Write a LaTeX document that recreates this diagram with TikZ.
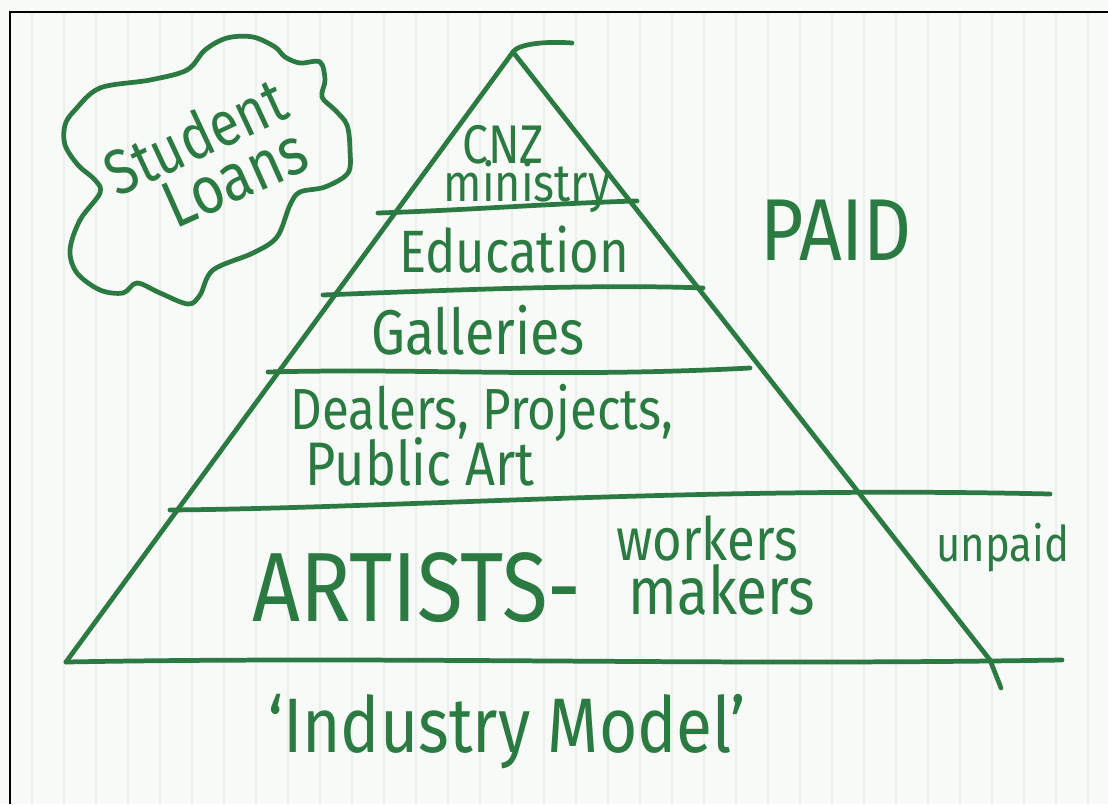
\documentclass[tikz,border=0pt]{standalone}
\usepackage{tikz}
\usepackage{fontspec}
\setmainfont{Fira Sans}[FakeStretch=0.85]
\usetikzlibrary{positioning}

\definecolor{ink}{RGB}{42,122,66}
\definecolor{paper}{RGB}{247,250,246}
\definecolor{ruling}{RGB}{234,240,236}

\tikzset{
  pen/.style={draw=ink, line width=2.7pt, line cap=round, line join=round},
  hand/.style={text=ink, inner sep=0pt, font=\fontsize{#1}{#1}\selectfont},
}

\begin{document}
\begin{tikzpicture}[x=0.02cm, y=-0.02cm]
        \useasboundingbox (0,0) rectangle (1108,804);
        % paper and its ruling
        \fill [paper] (0,0) rectangle (1108,804);
        \foreach \x in {32,64,...,1100}
                \draw [ruling, line width=0.8pt] (\x,12) -- (\x,804);
        \draw [black, line width=1.7pt] (10,804) -- (10,12) -- (1108,12);

        % pyramid
        \coordinate (apex) at (513,52);
        \coordinate (flag) at (572,43);
        \coordinate (left foot) at (66,662);
        \coordinate (right cross) at (990,660);
        \coordinate (right foot) at (1001,688);
        \draw [pen] (flag) .. controls (545,41) and (518,44) .. (apex) -- (left foot);
        \draw [pen] (apex) -- (right cross) -- (right foot);

        % tiers
        \draw [pen] (378,213) .. controls (470,210) and (560,203) .. (637,201);
        \draw [pen] (323,295) .. controls (450,290) and (600,284) .. (703,288);
        \draw [pen] (268,372) .. controls (420,368) and (560,378) .. (750,368);
        \draw [pen] (170,510) .. controls (400,508) and (700,486) .. (1050,494);
        \draw [pen] (left foot) .. controls (400,656) and (700,666) .. (1062,660);

        % cloud
        \draw [pen] plot [smooth cycle, tension=0.55] coordinates {
                (227,38) (253,37) (275,47) (285,57) (300,63) (320,62) (325,80)
                (322,97) (335,110) (347,125) (350,150) (348,173) (325,187)
                (300,192) (290,205) (277,237) (253,253) (213,270) (200,295)
                (188,304) (160,293) (137,283) (123,293) (100,290) (77,273)
                (70,250) (80,220) (100,193) (95,180) (78,165) (65,145) (65,125)
                (75,110) (100,88) (150,80) (187,70) (205,50)};
        \node (student) [hand=36, rotate=25] at (195,136) {Student};
        \node (loans) [hand=38, rotate=24] at (235,178) {Loans};

        % labels
        \node (cnz) [hand=31] at (503,145) {CNZ};
        \node (ministry) [hand=30] at (527,187) {ministry};
        \node (education) [hand=34] at (514,250) {Education};
        \node (galleries) [hand=36] at (478,330) {Galleries};
        \node (dealers) [hand=33] at (482,413) {Dealers, Projects,};
        \node (public art) [hand=35] at (420,462) {Public Art};
        \node (artists) [hand=56] at (417,588) {ARTISTS-};
        \node (workers) [hand=34] at (707,538) {workers};
        \node (makers) [hand=38] at (722,590) {makers};
        \node (paid) [hand=50] at (836,230) {PAID};
        \node (unpaid) [hand=28] at (1003,548) {unpaid};
        \node (industry) [hand=44] at (507,732) {`Industry Model'};
\end{tikzpicture}
\end{document}
